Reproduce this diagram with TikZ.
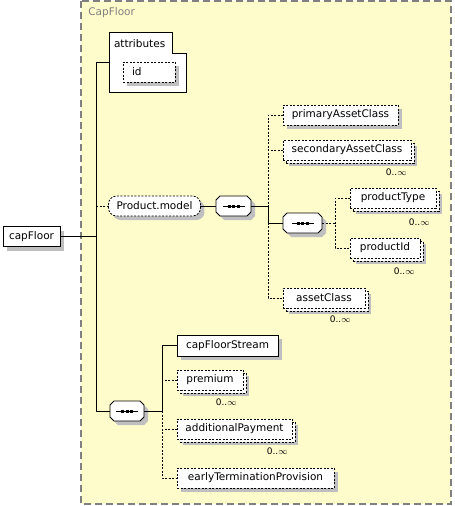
\documentclass[tikz,border=0pt]{standalone}
\usepackage{fontspec}
\setmainfont{DejaVu Sans}
\usetikzlibrary{positioning, shadows}

\begin{document}
\begin{tikzpicture}[
  x=1pt, y=-1pt,
  line width=0.8pt,
  font=\fontsize{10.5}{12}\selectfont,
  box/.style={
    draw,
    fill=white,
    minimum height=20pt,
    inner xsep=8pt,
    inner ysep=0pt,
    outer sep=0pt,
    text centered,
    drop shadow={shadow xshift=4pt, shadow yshift=-4pt, fill=black!25, opacity=1}
  },
  opt/.style={
    box,
    dash pattern=on 2pt off 1.5pt
  },
  many/.style={
    opt,
    drop shadow={shadow xshift=6pt, shadow yshift=-6pt, fill=black!25, opacity=1},
    copy shadow={shadow xshift=3pt, shadow yshift=-3pt, draw=black, fill=white,
      dash pattern=on 2pt off 1.5pt}
  },
  seqbox/.style={
    minimum height=20pt,
    inner sep=0pt,
    outer sep=0pt
  },
  mult/.style={
    font=\fontsize{9}{10}\selectfont,
    inner sep=0pt
  }
]
\useasboundingbox (0,0) rectangle (455,506);

% the CapFloor type
\draw [gray, line width=1.2pt, dash pattern=on 7pt off 4pt, fill=yellow!20] (81,1) rectangle (451,504);
\node [anchor=west, gray, inner sep=0pt] (typename) at (88,13) {CapFloor};

\node [box, inner xsep=6pt] (capFloor) at (31.5,236.5) {capFloor};

% attributes
\node [minimum width=76pt, minimum height=59pt, inner sep=0pt] (attrs) at (148,62.5) {};
\draw [fill=white] (attrs.north west) -- ++(63,0) -- ++(0,21) -| (attrs.south east) -- (attrs.south west) -- cycle;
\node [anchor=west, inner sep=0pt] (attrlabel) at ([shift={(4,10.5)}]attrs.north west) {attributes};
\node [opt, text width=34pt, inner xsep=9pt, align=left] (id) at (149,72) {id};

% Product.model
\node [opt, rounded corners=8pt, minimum width=89pt] (model) at (154.5,206) {Product.model};
\node [seqbox, minimum width=35pt] (seq1) at (233.5,206) {};

\node [opt, minimum width=115pt] (primary) at (340.5,115) {primaryAssetClass};
\node [many, minimum width=128pt] (secondary) at (347,150) {secondaryAssetClass};
\node [seqbox, minimum width=39pt] (seq2) at (302.5,223) {};
\node [many, minimum width=86pt] (ptype) at (393,198) {productType};
\node [many, minimum width=70pt] (pid) at (385,248) {productId};
\node [many, minimum width=82pt] (asset) at (324,298) {assetClass};

\node [mult, below left=8pt and 4pt of secondary.south east] (m1) {0..\(\infty\)};
\node [mult, below left=10pt and 6pt of ptype.south east] (m2) {0..\(\infty\)};
\node [mult, below left=9pt and 5pt of pid.south east] (m3) {0..\(\infty\)};
\node [mult, below left=7pt and 14pt of asset.south east] (m4) {0..\(\infty\)};

% capFloorStream group
\node [seqbox, minimum width=34pt] (seq3) at (127,411) {};
\node [box, minimum width=101pt, minimum height=21pt] (stream) at (227.5,345.5) {capFloorStream};
\node [many, minimum width=66pt] (premium) at (210,380) {premium};
\node [many, minimum width=115pt] (addpay) at (234.5,429) {additionalPayment};
\node [opt, minimum width=157pt] (early) at (255.5,478) {earlyTerminationProvision};

\node [mult, below left=8pt and 6pt of premium.south east] (m5) {0..\(\infty\)};
\node [mult, below left=8pt and 4pt of addpay.south east] (m6) {0..\(\infty\)};

% sequence symbols
\foreach \s in {seq1,seq2,seq3} {
  \draw [fill=white, drop shadow={shadow xshift=4pt, shadow yshift=-4pt, fill=black!25, opacity=1}]
    ([xshift=4pt]\s.north west) -- ([xshift=-4pt]\s.north east) -- ([yshift=-4pt]\s.north east)
    -- ([yshift=4pt]\s.south east) -- ([xshift=-4pt]\s.south east) -- ([xshift=4pt]\s.south west)
    -- ([yshift=4pt]\s.south west) -- ([yshift=-4pt]\s.north west) -- cycle;
  \draw ([xshift=-11pt]\s.center) -- ([xshift=11pt]\s.center);
  \foreach \d in {-4.5,0,4.5}
    \fill [black] ([xshift=\d pt]\s.center) +(-1.5pt,-1.5pt) rectangle +(1.5pt,1.5pt);
}

% connectors
\coordinate (trunk) at (96,0);
\coordinate (fork1) at (268,0);
\coordinate (fork2) at (335,0);
\coordinate (fork3) at (162,0);

\draw (capFloor.east) -- (capFloor.east -| trunk);
\draw (attrs.west) -- (attrs.west -| trunk) |- (seq3.west);
\draw [dash pattern=on 2pt off 1.5pt] (model.west -| trunk) -- (model.west);
\draw (model) -- (seq1);

\draw (seq1.east) -- (seq1.east -| fork1);
\draw [dash pattern=on 2pt off 1.5pt] (primary.west) -| (asset.west -| fork1) -- (asset.west);
\draw [dash pattern=on 2pt off 1.5pt] (secondary.west) -- (secondary.west -| fork1);
\draw (seq1.east -| fork1) |- (seq2.west);

\draw [dash pattern=on 2pt off 1.5pt] (seq2.east) -- (seq2.east -| fork2);
\draw [dash pattern=on 2pt off 1.5pt] (ptype.west) -| (pid.west -| fork2) -- (pid.west);

\draw (seq3.east) -- (seq3.east -| fork3);
\draw (stream.west) -| (seq3.east -| fork3);
\draw [dash pattern=on 2pt off 1.5pt] (seq3.east -| fork3) |- (early.west);
\draw [dash pattern=on 2pt off 1.5pt] (premium.west) -- (premium.west -| fork3);
\draw [dash pattern=on 2pt off 1.5pt] (addpay.west) -- (addpay.west -| fork3);

\end{tikzpicture}
\end{document}
